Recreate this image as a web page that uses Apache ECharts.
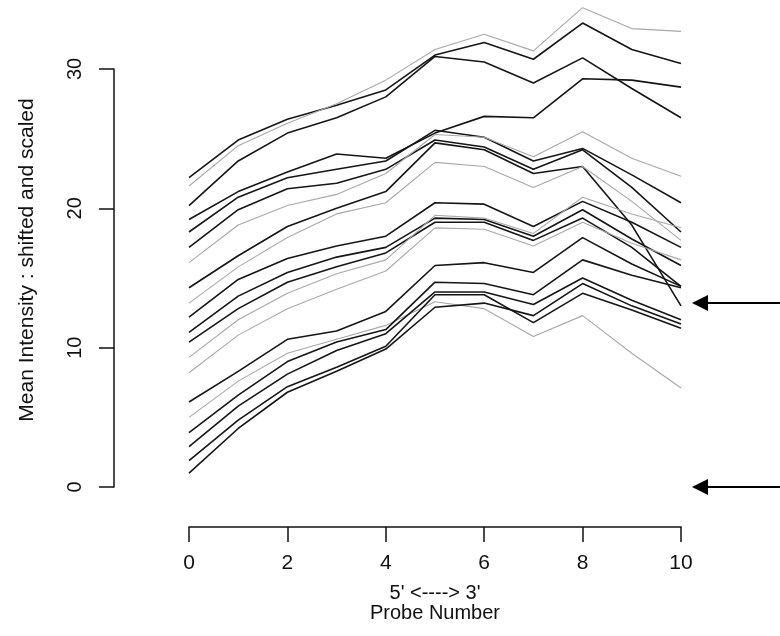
<!DOCTYPE html>
<html><head><meta charset="utf-8">
<script src="https://cdn.jsdelivr.net/npm/echarts@6/dist/echarts.min.js"></script>
<style>html,body{margin:0;padding:0;background:#fff}#c{width:780px;height:636px}</style>
</head><body><div id="c"></div>
<script>
// ---- data ----
const probeNumbers = [0,1,2,3,4,5,6,7,8,9,10];
const xTickLabels = ['0','2','4','6','8','10'];
const yTickLabels = ['0','10','20','30'];
// top group
const line01 = [22.2, 24.9, 26.4, 27.4, 28.5, 31.0, 31.9, 30.7, 33.3, 31.4, 30.4];
const line02 = [21.6, 24.5, 26.1, 27.5, 29.2, 31.4, 32.5, 31.3, 34.4, 32.9, 32.7];
const line03 = [20.2, 23.4, 25.4, 26.5, 28.0, 30.9, 30.5, 29.0, 30.8, 28.6, 26.5];
// middle-upper group
const line04 = [19.2, 21.2, 22.6, 23.9, 23.6, 25.4, 26.6, 26.5, 29.3, 29.2, 28.7];
const line05 = [18.3, 20.8, 22.2, 22.8, 23.4, 25.6, 25.1, 23.4, 24.3, 22.4, 20.4];
const line06 = [17.2, 19.9, 21.4, 21.8, 22.8, 24.9, 24.4, 22.8, 24.2, 21.5, 18.3];
const line07 = [16.1, 18.8, 20.2, 21.0, 22.5, 25.3, 25.1, 23.7, 25.5, 23.6, 22.3];
const line08 = [14.3, 16.6, 18.7, 20.0, 21.2, 24.7, 24.2, 22.5, 23.0, 18.8, 13.0];
const line09 = [13.2, 15.8, 17.9, 19.6, 20.4, 23.3, 23.0, 21.5, 23.0, 20.5, 17.7];
// middle-lower group
const line10 = [12.2, 14.9, 16.4, 17.3, 18.0, 20.4, 20.3, 18.7, 20.5, 19.0, 17.2];
const line11 = [11.1, 13.7, 15.4, 16.5, 17.2, 19.3, 19.2, 18.0, 19.9, 17.8, 15.9];
const line12 = [10.4, 12.8, 14.7, 15.8, 16.8, 19.0, 19.0, 17.7, 19.3, 17.2, 14.4];
const line13 = [9.3, 12.0, 13.9, 15.3, 16.3, 19.5, 19.3, 18.2, 20.8, 19.6, 18.6];
const line14 = [8.2, 10.9, 12.8, 14.2, 15.5, 18.6, 18.5, 17.3, 19.0, 17.5, 16.3];
// bottom group
const line15 = [6.1, 8.3, 10.6, 11.2, 12.6, 15.9, 16.1, 15.4, 17.9, 16.0, 14.4];
const line16 = [5.0, 7.6, 9.6, 10.6, 11.6, 13.3, 12.8, 10.8, 12.3, 9.6, 7.1];
const line17 = [3.9, 6.6, 9.0, 10.4, 11.3, 14.7, 14.6, 13.8, 16.3, 15.2, 14.3];
const line18 = [2.9, 5.8, 8.1, 9.8, 11.0, 14.0, 14.0, 13.1, 15.0, 13.4, 12.0];
const line19 = [1.9, 4.8, 7.2, 8.6, 10.1, 13.8, 13.8, 11.8, 13.9, 12.7, 11.4];
const line20 = [1.0, 4.2, 6.8, 8.3, 9.9, 12.9, 13.2, 12.3, 14.6, 13.0, 11.7];
const arrowLevels = [13.2, 0];

const allLines = [line01,line02,line03,line04,line05,line06,line07,line08,line09,line10,
                  line11,line12,line13,line14,line15,line16,line17,line18,line19,line20];
const grayIdx = [1, 6, 8, 12, 13, 15];

const FONT = 'Liberation Sans, Arial, sans-serif';
const chart = echarts.init(document.getElementById('c'), null, {renderer:'canvas'});
const series = allLines.map((vals, i) => ({
  type: 'line',
  data: probeNumbers.map((x, k) => [x, vals[k]]),
  symbol: 'none',
  clip: false,
  silent: true,
  lineStyle: grayIdx.includes(i) ? {color:'#a8a8a8', width:1.1} : {color:'#151515', width:1.6}
}));
chart.setOption({
  animation: false,
  backgroundColor: '#fff',
  grid: {left:189, right:99, top:69, bottom:149},
  xAxis: {
    type:'value', min:0, max:10, interval:2, offset:40,
    axisLine:{show:true, onZero:false, lineStyle:{color:'#111', width:1.5}},
    axisTick:{show:true, length:15, lineStyle:{color:'#111', width:1.5}},
    splitLine:{show:false},
    axisLabel:{margin:26, color:'#111', fontFamily:FONT, fontSize:21,
      formatter: v => xTickLabels[v/2]},
    name:"5' <----> 3'\nProbe Number", nameLocation:'middle', nameGap:56,
    nameTextStyle:{color:'#111', fontFamily:FONT, fontSize:20, lineHeight:20}
  },
  yAxis: {
    type:'value', min:0, max:30, interval:10, offset:75,
    axisLine:{show:true, onZero:false, lineStyle:{color:'#111', width:1.5}},
    axisTick:{show:true, length:15, lineStyle:{color:'#111', width:1.5}},
    splitLine:{show:false},
    axisLabel:{margin:29, rotate:90, color:'#111', fontFamily:FONT, fontSize:20,
      formatter: v => yTickLabels[v/10]},
    name:'Mean Intensity : shifted and scaled', nameLocation:'middle', nameGap:76, nameRotate:90,
    nameTextStyle:{color:'#111', fontFamily:FONT, fontSize:21, padding:[0,0,0,36]}
  },
  series: series
});
const arrows = arrowLevels.map(v => {
  const p = chart.convertToPixel({gridIndex:0}, [10, v]);
  const tipX = p[0] + 11, y = p[1];
  return {type:'group', children:[
    {type:'line', shape:{x1:tipX+14, y1:y, x2:780, y2:y}, style:{stroke:'#000', lineWidth:2}},
    {type:'polygon', shape:{points:[[tipX,y],[tipX+16,y-8],[tipX+16,y+8]]}, style:{fill:'#000'}}
  ]};
});
chart.setOption({graphic: arrows});
</script></body></html>
